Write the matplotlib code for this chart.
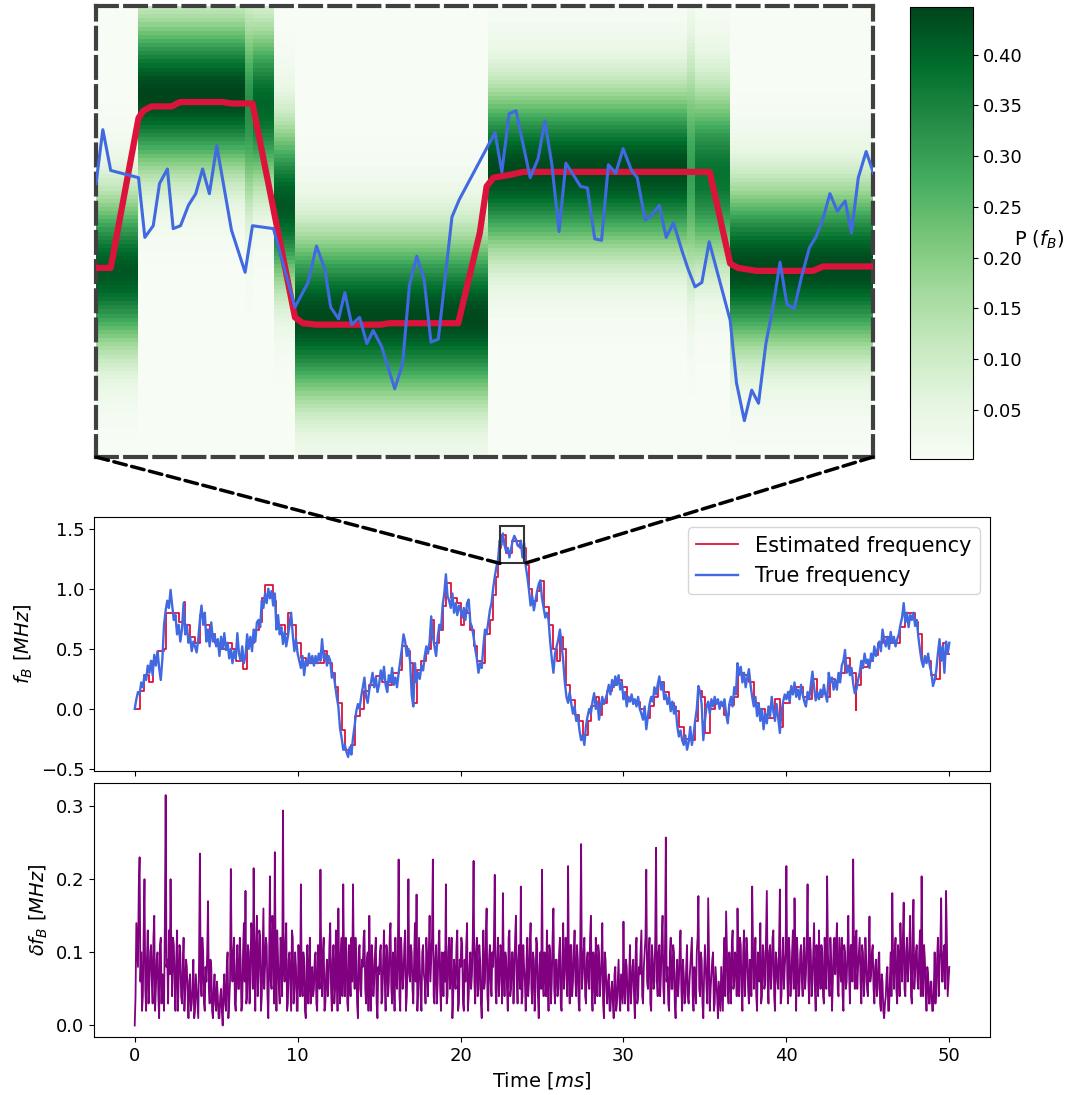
import numpy as np
import matplotlib
matplotlib.use('Agg')
import matplotlib.pyplot as plt
from matplotlib.patches import Rectangle, ConnectionPatch
from matplotlib.colors import Normalize

# ---------------- data ----------------
dt = 0.1  # ms sampling of typed series
true_freq = [
    0.00, 0.08, 0.14, 0.12, 0.22, 0.18, 0.28, 0.24, 0.36, 0.30,
    0.40, 0.28, 0.45, 0.36, 0.48, 0.34, 0.24, 0.42, 0.70, 0.82,
    0.90, 0.84, 0.99, 0.86, 0.74, 0.78, 0.62, 0.70, 0.56, 0.66,
    0.88, 0.62, 0.70, 0.55, 0.60, 0.48, 0.56, 0.52, 0.47, 0.58,
    0.74, 0.86, 0.70, 0.80, 0.56, 0.66, 0.52, 0.72, 0.56, 0.62,
    0.52, 0.58, 0.44, 0.60, 0.50, 0.63, 0.49, 0.55, 0.42, 0.50,
    0.38, 0.48, 0.42, 0.63, 0.46, 0.40, 0.52, 0.38, 0.44, 0.62,
    0.50, 0.60, 0.48, 0.66, 0.56, 0.72, 0.74, 0.68, 0.90, 0.84,
    0.96, 0.88, 1.00, 0.92, 0.98, 0.86, 0.96, 0.66, 0.78, 0.62,
    0.68, 0.54, 0.64, 0.52, 0.60, 0.70, 0.80, 0.62, 0.48, 0.58,
    0.46, 0.40, 0.34, 0.44, 0.28, 0.40, 0.36, 0.46, 0.38, 0.44,
    0.36, 0.44, 0.38, 0.46, 0.40, 0.58, 0.42, 0.46, 0.36, 0.44,
    0.40, 0.26, 0.30, 0.20, 0.10, 0.02, -0.16, -0.24, -0.34, -0.30,
    -0.36, -0.40, -0.32, -0.38, -0.24, -0.14, -0.02, 0.04, 0.00, 0.10,
    0.18, 0.26, 0.10, 0.05, 0.16, 0.22, 0.30, 0.18, 0.26, 0.14,
    0.20, 0.32, 0.24, 0.35, 0.20, 0.14, 0.28, 0.22, 0.34, 0.20,
    0.26, 0.18, 0.30, 0.40, 0.50, 0.62, 0.56, 0.44, 0.50, 0.40,
    0.12, 0.02, 0.38, 0.22, 0.30, 0.25, 0.36, 0.32, 0.44, 0.52,
    0.46, 0.56, 0.77, 0.60, 0.52, 0.44, 0.60, 0.70, 0.66, 0.86,
    0.96, 1.12, 0.94, 0.90, 0.84, 0.96, 0.80, 0.88, 0.78, 0.86,
    0.82, 0.76, 0.84, 0.74, 0.88, 0.91, 0.72, 0.68, 0.60, 0.50,
    0.42, 0.30, 0.38, 0.34, 0.52, 0.66, 0.62, 0.72, 0.82, 0.88,
    1.00, 1.10, 1.18, 1.24, 1.40, 1.36, 1.46, 1.36, 1.31, 1.34,
    1.26, 1.33, 1.40, 1.44, 1.41, 1.36, 1.35, 1.40, 1.26, 1.38,
    1.19, 1.10, 0.99, 0.86, 0.94, 0.82, 0.90, 0.98, 1.04, 1.07,
    0.92, 0.84, 0.76, 0.80, 0.74, 0.56, 0.42, 0.30, 0.46, 0.52,
    0.58, 0.66, 0.54, 0.40, 0.22, 0.10, 0.05, 0.14, 0.04, -0.04,
    0.02, -0.10, -0.06, -0.18, -0.26, -0.22, -0.30, -0.14, -0.06, 0.00,
    -0.04, 0.06, 0.13, 0.00, 0.06, -0.09, 0.02, 0.10, 0.04, 0.08,
    0.13, 0.20, 0.12, 0.24, 0.18, 0.27, 0.20, 0.28, 0.16, 0.22,
    0.08, 0.14, 0.02, 0.10, 0.06, 0.12, 0.04, 0.08, 0.02, 0.10,
    0.00, -0.04, -0.09, 0.02, -0.17, -0.06, 0.04, 0.10, 0.06, 0.18,
    0.12, 0.20, 0.27, 0.16, 0.22, 0.08, 0.12, 0.04, 0.10, -0.02,
    0.06, -0.04, 0.02, -0.14, -0.23, -0.18, -0.26, -0.30, -0.22, -0.34,
    -0.28, -0.15, -0.30, -0.22, -0.10, 0.00, 0.19, 0.14, 0.04, -0.26,
    -0.10, 0.02, 0.06, -0.04, 0.08, 0.02, 0.10, 0.04, 0.08, 0.00,
    0.06, 0.02, 0.08, -0.04, -0.12, 0.04, 0.10, 0.02, 0.18, 0.12,
    0.38, 0.28, 0.35, 0.22, 0.30, 0.18, 0.26, 0.33, 0.20, 0.10,
    0.02, 0.10, -0.06, 0.04, -0.10, 0.00, -0.17, -0.04, -0.12, 0.02,
    -0.06, 0.10, -0.02, -0.10, 0.04, -0.08, -0.20, -0.02, 0.06, 0.12,
    0.08, 0.14, 0.06, 0.19, 0.12, 0.22, 0.10, 0.16, 0.08, 0.20,
    0.12, 0.06, 0.02, 0.14, 0.08, 0.20, 0.31, 0.18, 0.07, 0.14,
    0.08, 0.16, 0.10, 0.20, 0.12, 0.06, 0.30, 0.22, 0.26, 0.16,
    0.24, 0.16, 0.30, 0.22, 0.36, 0.40, 0.49, 0.30, 0.36, 0.28,
    0.34, 0.21, 0.13, 0.16, 0.24, 0.30, 0.40, 0.34, 0.46, 0.38,
    0.41, 0.34, 0.46, 0.40, 0.52, 0.44, 0.50, 0.56, 0.48, 0.66,
    0.58, 0.52, 0.60, 0.50, 0.64, 0.55, 0.60, 0.52, 0.58, 0.62,
    0.70, 0.76, 0.88, 0.72, 0.80, 0.68, 0.78, 0.74, 0.80, 0.69,
    0.74, 0.60, 0.49, 0.40, 0.35, 0.44, 0.38, 0.46, 0.36, 0.30,
    0.19, 0.24, 0.32, 0.46, 0.58, 0.40, 0.52, 0.30, 0.56, 0.46, 0.55,
]

est_t = [0.0, 0.3, 0.6, 0.9, 1.1, 1.4, 1.8, 1.95, 2.7, 3.0, 3.1, 3.4, 3.7, 4.0, 4.3,
         4.6, 4.9, 5.3, 5.6, 6.0, 6.2, 6.5, 6.65, 6.9, 7.3, 7.6, 7.8, 8.0, 8.5, 8.7,
         9.2, 9.4, 9.6, 9.9, 10.2, 10.5, 11.4, 11.6, 11.8, 12.1, 12.3, 12.5, 12.7, 12.9,
         13.3, 13.5, 13.8, 14.1, 14.4, 14.8, 15.2, 15.5, 15.8, 16.2, 16.4, 16.7, 16.9,
         17.1, 17.3, 17.6, 17.9, 18.2, 18.4, 18.7, 18.9, 19.1, 19.4, 19.8, 20.0, 20.2,
         20.4, 20.6, 20.8, 21.0, 21.3, 21.5, 21.8, 22.0, 22.2, 22.3, 22.45, 22.51, 22.73,
         22.81, 23.12, 23.18, 23.60, 23.64, 24.0, 24.2, 24.4, 24.7, 24.9, 25.1, 25.4,
         25.7, 25.9, 26.1, 26.3, 26.5, 26.7, 27.0, 27.3, 27.5, 27.8, 28.0, 28.3, 28.5,
         28.7, 29.0, 29.3, 29.6, 29.9, 30.2, 30.6, 31.0, 31.3, 31.6, 31.9, 32.1, 32.5,
         32.8, 33.1, 33.4, 33.7, 34.1, 34.4, 34.6, 34.8, 35.0, 35.3, 35.6, 35.9, 36.2,
         36.5, 36.8, 37.0, 37.4, 37.7, 38.0, 38.3, 38.7, 39.0, 39.3, 39.6, 39.8, 40.2,
         40.6, 41.0, 41.3, 41.6, 41.9, 42.2, 42.5, 42.7, 43.0, 43.3, 43.6, 43.9, 44.2,
         44.25, 44.3, 44.6, 45.0, 45.3, 45.6, 45.9, 46.3, 46.6, 47.0, 47.3, 47.9, 48.1,
         48.3, 48.6, 48.9, 49.2, 49.4, 49.6, 49.8, 50.0]
est_f = [0.00, 0.15, 0.28, 0.22, 0.40, 0.48, 0.50, 0.80, 0.72, 0.89, 0.70, 0.60, 0.55, 0.78, 0.70,
         0.62, 0.55, 0.50, 0.55, 0.50, 0.40, 0.45, 0.33, 0.55, 0.66, 0.72, 0.92, 1.03, 0.90, 0.70,
         0.62, 0.80, 0.70, 0.55, 0.42, 0.38, 0.38, 0.48, 0.38, 0.30, 0.18, 0.05, -0.18, -0.34,
         -0.30, -0.06, 0.00, 0.15, 0.20, 0.27, 0.22, 0.20, 0.30, 0.32, 0.52, 0.48, 0.38,
         0.05, 0.32, 0.40, 0.50, 0.74, 0.55, 0.66, 0.86, 1.05, 0.92, 0.88, 0.70, 0.82,
         0.80, 0.66, 0.52, 0.40, 0.38, 0.62, 0.74, 0.95, 1.10, 1.25, 1.34, 1.45, 1.45,
         1.30, 1.30, 1.40, 1.40, 1.34, 1.20, 1.00, 0.90, 0.98, 1.06, 0.85, 0.70,
         0.50, 0.40, 0.60, 0.50, 0.20, 0.07, -0.05, -0.10, -0.22, -0.10, 0.02, 0.10, -0.05,
         0.05, 0.15, 0.20, 0.24, 0.18, 0.08, 0.06, 0.00, -0.08, 0.02, 0.10, 0.22, 0.14,
         0.05, -0.02, -0.15, -0.25, -0.26, -0.10, 0.15, 0.10, -0.20, 0.00, 0.05, 0.04, -0.05,
         0.03, 0.10, 0.30, 0.28, 0.22, 0.05, 0.00, -0.08, -0.08, 0.08, -0.15, 0.05, 0.15,
         0.18, 0.10, 0.08, 0.25, 0.10, 0.12, 0.10, 0.25, 0.22, 0.30, 0.42, 0.30, 0.30,
         -0.01, 0.20, 0.35, 0.40, 0.45, 0.55, 0.60, 0.55, 0.55, 0.68, 0.80, 0.72, 0.62,
         0.40, 0.40, 0.28, 0.25, 0.50, 0.55, 0.46, 0.46]

# estimation error, sampled every 0.1 ms (delta_f) and midway between (delta_f_mid)
delta_f = [
    0.00, 0.14, 0.08, 0.23, 0.10, 0.04, 0.20, 0.02, 0.13, 0.06,
    0.11, 0.03, 0.15, 0.05, 0.10, 0.01, 0.12, 0.07, 0.02, 0.315,
    0.09, 0.13, 0.20, 0.04, 0.11, 0.02, 0.13, 0.06, 0.10, 0.03,
    0.12, 0.05, 0.08, 0.01, 0.07, 0.03, 0.09, 0.02, 0.05, 0.01,
    0.235, 0.04, 0.10, 0.02, 0.06, 0.17, 0.03, 0.08, 0.01, 0.07,
    0.02, 0.04, 0.01, 0.05, 0.00, 0.07, 0.02, 0.10, 0.03, 0.214,
    0.06, 0.12, 0.02, 0.11, 0.05, 0.09, 0.03, 0.14, 0.184, 0.04,
    0.10, 0.06, 0.13, 0.215, 0.02, 0.15, 0.07, 0.12, 0.04, 0.16,
    0.08, 0.11, 0.01, 0.204, 0.05, 0.13, 0.237, 0.02, 0.09, 0.03,
    0.11, 0.294, 0.06, 0.14, 0.03, 0.10, 0.02, 0.12, 0.05, 0.08,
    0.02, 0.07, 0.193, 0.04, 0.09, 0.01, 0.11, 0.06, 0.03, 0.08,
    0.05, 0.10, 0.02, 0.07, 0.213, 0.04, 0.12, 0.03, 0.09, 0.06,
    0.14, 0.02, 0.11, 0.05, 0.08, 0.16, 0.03, 0.12, 0.193, 0.04,
    0.10, 0.02, 0.07, 0.12, 0.193, 0.05, 0.09, 0.01, 0.11, 0.04,
    0.08, 0.13, 0.03, 0.10, 0.15, 0.02, 0.09, 0.06, 0.12, 0.01,
    0.07, 0.11, 0.04, 0.13, 0.02, 0.10, 0.06, 0.14, 0.03, 0.08,
    0.12, 0.05, 0.227, 0.02, 0.09, 0.07, 0.13, 0.04, 0.200, 0.06,
    0.10, 0.03, 0.14, 0.179, 0.05, 0.08, 0.02, 0.11, 0.06, 0.12,
    0.04, 0.15, 0.09, 0.227, 0.03, 0.11, 0.06, 0.13, 0.02, 0.08,
    0.10, 0.193, 0.04, 0.12, 0.07, 0.01, 0.09, 0.05, 0.13, 0.03,
    0.08, 0.11, 0.02, 0.06, 0.14, 0.04, 0.10, 0.07, 0.225, 0.03,
    0.12, 0.05, 0.09, 0.01, 0.13, 0.06, 0.16, 0.02, 0.11, 0.04,
    0.08, 0.206, 0.03, 0.12, 0.06, 0.10, 0.181, 0.04, 0.09, 0.02,
    0.13, 0.05, 0.10, 0.07, 0.15, 0.03, 0.11, 0.190, 0.04, 0.08,
    0.02, 0.12, 0.06, 0.14, 0.03, 0.09, 0.05, 0.11, 0.01, 0.10,
    0.213, 0.04, 0.08, 0.13, 0.02, 0.10, 0.06, 0.16, 0.03, 0.09,
    0.05, 0.12, 0.02, 0.14, 0.07, 0.10, 0.218, 0.03, 0.11, 0.06,
    0.13, 0.04, 0.09, 0.02, 0.248, 0.07, 0.12, 0.03, 0.10, 0.05,
    0.15, 0.02, 0.08, 0.12, 0.04, 0.10, 0.06, 0.14, 0.01, 0.09,
    0.03, 0.07, 0.02, 0.06, 0.01, 0.08, 0.03, 0.09, 0.02, 0.05,
    0.142, 0.03, 0.08, 0.02, 0.11, 0.05, 0.09, 0.01, 0.12, 0.04,
    0.07, 0.13, 0.03, 0.10, 0.213, 0.05, 0.12, 0.02, 0.09, 0.06,
    0.243, 0.04, 0.11, 0.07, 0.15, 0.03, 0.257, 0.08, 0.02, 0.12,
    0.05, 0.10, 0.01, 0.09, 0.06, 0.13, 0.02, 0.07, 0.04, 0.11,
    0.03, 0.08, 0.12, 0.02, 0.06, 0.10, 0.177, 0.04, 0.09, 0.01,
    0.11, 0.05, 0.174, 0.02, 0.07, 0.10, 0.03, 0.06, 0.01, 0.04,
    0.08, 0.02, 0.12, 0.156, 0.05, 0.10, 0.03, 0.13, 0.06, 0.09,
    0.16, 0.04, 0.11, 0.02, 0.13, 0.07, 0.10, 0.03, 0.08, 0.190,
    0.05, 0.12, 0.02, 0.09, 0.14, 0.04, 0.10, 0.06, 0.184, 0.03,
    0.11, 0.07, 0.13, 0.02, 0.09, 0.05, 0.186, 0.04, 0.12, 0.08,
    0.218, 0.03, 0.10, 0.06, 0.13, 0.174, 0.02, 0.09, 0.05, 0.11,
    0.04, 0.12, 0.07, 0.193, 0.03, 0.10, 0.06, 0.14, 0.02, 0.08,
    0.13, 0.05, 0.10, 0.03, 0.09, 0.204, 0.06, 0.12, 0.02, 0.11,
    0.07, 0.14, 0.04, 0.09, 0.12, 0.02, 0.10, 0.06, 0.15, 0.03,
    0.11, 0.227, 0.05, 0.13, 0.08, 0.12, 0.03, 0.10, 0.06, 0.09,
    0.04, 0.149, 0.07, 0.11, 0.03, 0.09, 0.05, 0.10, 0.02, 0.06,
    0.01, 0.04, 0.08, 0.02, 0.10, 0.181, 0.05, 0.12, 0.03, 0.09,
    0.14, 0.06, 0.168, 0.04, 0.12, 0.08, 0.15, 0.03, 0.172, 0.07,
    0.11, 0.05, 0.13, 0.204, 0.04, 0.09, 0.02, 0.07, 0.03, 0.06,
    0.02, 0.10, 0.05, 0.12, 0.08, 0.174, 0.06, 0.11, 0.184, 0.04, 0.08,
]
delta_f_mid = [
    0.04, 0.11, 0.19, 0.06, 0.02, 0.13, 0.05, 0.09, 0.03, 0.10,
    0.06, 0.12, 0.02, 0.09, 0.04, 0.11, 0.03, 0.05, 0.14, 0.08,
    0.03, 0.07, 0.10, 0.12, 0.06, 0.09, 0.02, 0.11, 0.04, 0.08,
    0.02, 0.09, 0.04, 0.06, 0.02, 0.05, 0.01, 0.07, 0.03, 0.09,
    0.06, 0.12, 0.03, 0.08, 0.10, 0.05, 0.09, 0.02, 0.05, 0.03,
    0.06, 0.01, 0.04, 0.02, 0.05, 0.03, 0.08, 0.01, 0.06, 0.09,
    0.10, 0.03, 0.08, 0.05, 0.12, 0.02, 0.10, 0.06, 0.03, 0.11,
    0.03, 0.14, 0.05, 0.09, 0.11, 0.04, 0.13, 0.02, 0.10, 0.05,
    0.12, 0.04, 0.09, 0.06, 0.15, 0.03, 0.10, 0.13, 0.05, 0.12,
    0.04, 0.08, 0.11, 0.02, 0.09, 0.06, 0.13, 0.03, 0.10, 0.02,
    0.11, 0.04, 0.06, 0.10, 0.02, 0.08, 0.03, 0.12, 0.07, 0.04,
    0.09, 0.03, 0.11, 0.05, 0.08, 0.10, 0.02, 0.07, 0.04, 0.11,
    0.05, 0.09, 0.03, 0.13, 0.02, 0.07, 0.10, 0.04, 0.08, 0.12,
    0.03, 0.11, 0.04, 0.06, 0.08, 0.12, 0.03, 0.10, 0.05, 0.09,
    0.12, 0.05, 0.09, 0.02, 0.07, 0.11, 0.04, 0.10, 0.03, 0.08,
    0.10, 0.03, 0.09, 0.06, 0.11, 0.04, 0.12, 0.05, 0.10, 0.02,
    0.06, 0.10, 0.04, 0.12, 0.05, 0.11, 0.02, 0.09, 0.07, 0.11,
    0.05, 0.09, 0.06, 0.02, 0.12, 0.04, 0.10, 0.07, 0.03, 0.09,
    0.10, 0.06, 0.12, 0.04, 0.09, 0.03, 0.11, 0.05, 0.10, 0.04,
    0.06, 0.03, 0.10, 0.05, 0.12, 0.04, 0.06, 0.11, 0.02, 0.09,
    0.12, 0.03, 0.09, 0.11, 0.02, 0.08, 0.05, 0.12, 0.06, 0.10,
    0.04, 0.11, 0.03, 0.08, 0.05, 0.12, 0.04, 0.09, 0.06, 0.10,
    0.12, 0.05, 0.09, 0.04, 0.11, 0.03, 0.08, 0.10, 0.05, 0.12,
    0.04, 0.10, 0.03, 0.12, 0.06, 0.09, 0.05, 0.03, 0.11, 0.06,
    0.09, 0.04, 0.11, 0.05, 0.10, 0.02, 0.12, 0.04, 0.08, 0.05,
    0.06, 0.10, 0.04, 0.07, 0.11, 0.03, 0.12, 0.05, 0.09, 0.04,
    0.10, 0.03, 0.09, 0.05, 0.12, 0.04, 0.08, 0.11, 0.04, 0.10,
    0.06, 0.11, 0.03, 0.12, 0.05, 0.10, 0.04, 0.09, 0.06, 0.12,
    0.05, 0.10, 0.03, 0.07, 0.11, 0.04, 0.09, 0.03, 0.10, 0.05,
    0.06, 0.02, 0.05, 0.03, 0.07, 0.02, 0.06, 0.04, 0.07, 0.03,
    0.05, 0.09, 0.04, 0.07, 0.03, 0.08, 0.04, 0.10, 0.03, 0.08,
    0.10, 0.04, 0.08, 0.12, 0.06, 0.10, 0.03, 0.11, 0.05, 0.12,
    0.06, 0.10, 0.04, 0.12, 0.05, 0.11, 0.06, 0.03, 0.10, 0.05,
    0.11, 0.03, 0.07, 0.04, 0.10, 0.05, 0.09, 0.03, 0.08, 0.04,
    0.06, 0.10, 0.04, 0.08, 0.03, 0.12, 0.05, 0.10, 0.03, 0.07,
    0.08, 0.03, 0.10, 0.05, 0.09, 0.02, 0.08, 0.04, 0.06, 0.02,
    0.05, 0.09, 0.04, 0.10, 0.03, 0.07, 0.11, 0.05, 0.10, 0.04,
    0.09, 0.12, 0.05, 0.10, 0.04, 0.12, 0.05, 0.09, 0.04, 0.11,
    0.09, 0.04, 0.10, 0.06, 0.03, 0.11, 0.05, 0.12, 0.06, 0.10,
    0.05, 0.12, 0.04, 0.10, 0.06, 0.11, 0.03, 0.09, 0.05, 0.10,
    0.07, 0.12, 0.04, 0.10, 0.05, 0.09, 0.12, 0.04, 0.10, 0.06,
    0.10, 0.05, 0.11, 0.06, 0.12, 0.04, 0.10, 0.05, 0.11, 0.04,
    0.08, 0.11, 0.04, 0.12, 0.05, 0.10, 0.04, 0.09, 0.06, 0.12,
    0.10, 0.05, 0.12, 0.06, 0.04, 0.11, 0.05, 0.10, 0.07, 0.11,
    0.06, 0.10, 0.12, 0.05, 0.10, 0.06, 0.11, 0.04, 0.12, 0.05,
    0.09, 0.06, 0.10, 0.05, 0.08, 0.04, 0.09, 0.03, 0.07, 0.02,
    0.03, 0.07, 0.02, 0.06, 0.04, 0.09, 0.10, 0.05, 0.11, 0.04,
    0.09, 0.12, 0.05, 0.10, 0.06, 0.11, 0.04, 0.12, 0.05, 0.10,
    0.06, 0.10, 0.04, 0.09, 0.11, 0.05, 0.08, 0.03, 0.06, 0.02,
    0.05, 0.03, 0.09, 0.04, 0.11, 0.06, 0.10, 0.05, 0.12, 0.06,
]

# zoomed window (inset)
zoom_t = [22.43, 23.91]
zoom_f = [1.21, 1.52]

inset_true_t = [22.430, 22.443, 22.458, 22.511, 22.523, 22.539, 22.551, 22.566, 22.577, 22.591,
                22.606, 22.620, 22.633, 22.646, 22.660, 22.688, 22.714, 22.728, 22.768, 22.809,
                22.834, 22.850, 22.866, 22.877, 22.892, 22.904, 22.917, 22.932, 22.946, 22.958,
                22.974, 22.999, 23.014, 23.027, 23.041, 23.055, 23.068, 23.082, 23.108, 23.122,
                23.190, 23.203, 23.217, 23.230, 23.257, 23.272, 23.285, 23.298, 23.312, 23.325,
                23.353, 23.366, 23.380, 23.393, 23.406, 23.420, 23.434, 23.450, 23.461, 23.476,
                23.488, 23.503, 23.516, 23.530, 23.546, 23.558, 23.571, 23.584, 23.598, 23.638,
                23.650, 23.665, 23.679, 23.692, 23.706, 23.720, 23.733, 23.746, 23.760, 23.774,
                23.789, 23.801, 23.815, 23.828, 23.842, 23.857, 23.869, 23.882, 23.897, 23.911]
inset_true_f = [1.398, 1.435, 1.407, 1.402, 1.361, 1.369, 1.398, 1.408, 1.367, 1.369,
                1.383, 1.391, 1.408, 1.391, 1.424, 1.366, 1.337, 1.369, 1.367, 1.313,
                1.330, 1.355, 1.339, 1.313, 1.305, 1.323, 1.301, 1.306, 1.288, 1.297,
                1.286, 1.257, 1.274, 1.328, 1.348, 1.332, 1.289, 1.291, 1.375, 1.387,
                1.433, 1.406, 1.446, 1.448, 1.402, 1.415, 1.441, 1.412, 1.365, 1.412,
                1.396, 1.395, 1.360, 1.359, 1.411, 1.405, 1.422, 1.407, 1.402, 1.373,
                1.376, 1.383, 1.361, 1.371, 1.352, 1.339, 1.327, 1.330, 1.358, 1.304,
                1.261, 1.235, 1.256, 1.247, 1.288, 1.314, 1.344, 1.315, 1.312, 1.334,
                1.354, 1.361, 1.374, 1.391, 1.379, 1.386, 1.364, 1.402, 1.420, 1.405]

inset_est_t = [22.430, 22.458, 22.511, 22.520, 22.536, 22.574, 22.590, 22.672, 22.688, 22.728,
               22.809, 22.824, 22.850, 22.971, 22.990, 23.120, 23.161, 23.174, 23.187, 23.219,
               23.244, 23.599, 23.638, 23.653, 23.688, 23.796, 23.815, 23.911]
inset_est_f = [1.340, 1.340, 1.443, 1.448, 1.451, 1.451, 1.454, 1.454, 1.453, 1.453,
               1.306, 1.302, 1.301, 1.301, 1.302, 1.302, 1.364, 1.396, 1.402, 1.404,
               1.406, 1.406, 1.343, 1.340, 1.338, 1.338, 1.341, 1.341]

# posterior P(f_B) in the inset: per update interval, peak position, width and height
seg_edges = [22.430, 22.510, 22.714, 22.729, 22.769, 22.809, 23.177, 23.556, 23.571, 23.638, 23.911]
seg_center = [1.337, 1.459, 1.449, 1.452, 1.383, 1.306, 1.407, 1.407, 1.404, 1.340]
seg_width = [0.037, 0.037, 0.046, 0.039, 0.039, 0.040, 0.039, 0.052, 0.042, 0.039]
seg_peak = [0.42, 0.447, 0.33, 0.40, 0.42, 0.44, 0.44, 0.30, 0.38, 0.44]
n_bins = 110
cbar_ticks = [0.05, 0.10, 0.15, 0.20, 0.25, 0.30, 0.35, 0.40]

assert len(true_freq) == 501 and len(delta_f) == 501 and len(delta_f_mid) == 500
assert len(est_t) == len(est_f)
assert len(inset_true_t) == len(inset_true_f)
assert len(inset_est_t) == len(inset_est_f)

t = np.arange(len(true_freq)) * dt
# interleave the two error samplings into one series at dt/2
delta_all = np.empty(len(delta_f) + len(delta_f_mid))
delta_all[0::2] = delta_f
delta_all[1::2] = delta_f_mid
t_delta = np.arange(len(delta_all)) * (dt / 2)

# ---------------- figure ----------------
plt.rcParams['font.family'] = ['DejaVu Sans']
plt.rcParams['mathtext.fontset'] = 'dejavusans'
fig = plt.figure(figsize=(10.68, 10.95), dpi=100)

FS = 13
ax_main = fig.add_axes([0.0880, 0.2959, 0.8390, 0.2320])
ax_bot = fig.add_axes([0.0880, 0.0530, 0.8390, 0.2319], sharex=ax_main)
ax_in = fig.add_axes([0.0899, 0.5826, 0.7275, 0.4119])
cax = fig.add_axes([0.8521, 0.5808, 0.0590, 0.4128])

RED = '#dc143c'
BLUE = '#4169e1'

# main panel
ax_main.plot(est_t, est_f, color=RED, lw=1.3, drawstyle='steps-post',
             label='Estimated frequency', zorder=2)
ax_main.plot(t, true_freq, color=BLUE, lw=1.7, label='True frequency', zorder=3)
ax_main.set_xlim(-2.5, 52.5)
ax_main.set_ylim(-0.517, 1.597)
ax_main.set_yticks([-0.5, 0.0, 0.5, 1.0, 1.5])
ax_main.set_ylabel(r'$f_B\ [MHz]$', fontsize=14)
ax_main.tick_params(labelsize=FS, labelbottom=False)
leg = ax_main.legend(loc='upper right', fontsize=15)
ax_main.add_patch(Rectangle((zoom_t[0], zoom_f[0]), zoom_t[1] - zoom_t[0],
                            zoom_f[1] - zoom_f[0], fill=False, ec='0.2', lw=1.5, zorder=4))

# bottom panel
ax_bot.plot(t_delta, delta_all, color='purple', lw=1.3)
ax_bot.set_ylim(-0.0157, 0.3315)
ax_bot.set_yticks([0.0, 0.1, 0.2, 0.3])
ax_bot.set_xticks([0, 10, 20, 30, 40, 50])
ax_bot.set_ylabel(r'$\delta f_B\ [MHz]$', fontsize=14)
ax_bot.set_xlabel(r'Time $[ms]$', fontsize=14)
ax_bot.tick_params(labelsize=FS)

# inset heatmap
y_edges = np.linspace(zoom_f[0], zoom_f[1], n_bins + 1)
y_cent = 0.5 * (y_edges[:-1] + y_edges[1:])
Z = np.array(seg_peak)[None, :] * np.exp(
    -(y_cent[:, None] - np.array(seg_center)[None, :]) ** 2
    / (2 * np.array(seg_width)[None, :] ** 2))
norm = Normalize(vmin=0.0017, vmax=0.447)
mesh = ax_in.pcolormesh(seg_edges, y_edges, Z, cmap='Greens', norm=norm, shading='flat')
ax_in.plot(inset_est_t, inset_est_f, color=RED, lw=4.5, solid_capstyle='round', zorder=3)
ax_in.plot(inset_true_t, inset_true_f, color=BLUE, lw=2.2, zorder=4)
ax_in.set_xlim(zoom_t)
ax_in.set_ylim(zoom_f)
ax_in.set_xticks([])
ax_in.set_yticks([])
for sp in ax_in.spines.values():
    sp.set_linestyle((0, (5, 2)))
    sp.set_linewidth(3)
    sp.set_edgecolor('0.25')

# colorbar
cb = fig.colorbar(mesh, cax=cax, ticks=cbar_ticks)
cb.ax.tick_params(labelsize=FS)
cb.ax.set_yticklabels([f'{v:.2f}' for v in cbar_ticks])
cb.outline.set_linewidth(0.8)
cb.ax.set_ylabel(r'P ($f_B$)', rotation=0, fontsize=14, ha='center', va='center')
cb.ax.yaxis.set_label_coords(2.05, 0.485)

# connector lines
for xa, xb in [(0, zoom_t[0]), (1, zoom_t[1])]:
    con = ConnectionPatch(xyA=(xa, 0), coordsA=ax_in.transAxes,
                          xyB=(xb, zoom_f[0]), coordsB=ax_main.transData,
                          color='black', lw=2.5, linestyle='--', zorder=10)
    fig.add_artist(con)

fig.savefig('out.png', dpi=100, facecolor='white')
